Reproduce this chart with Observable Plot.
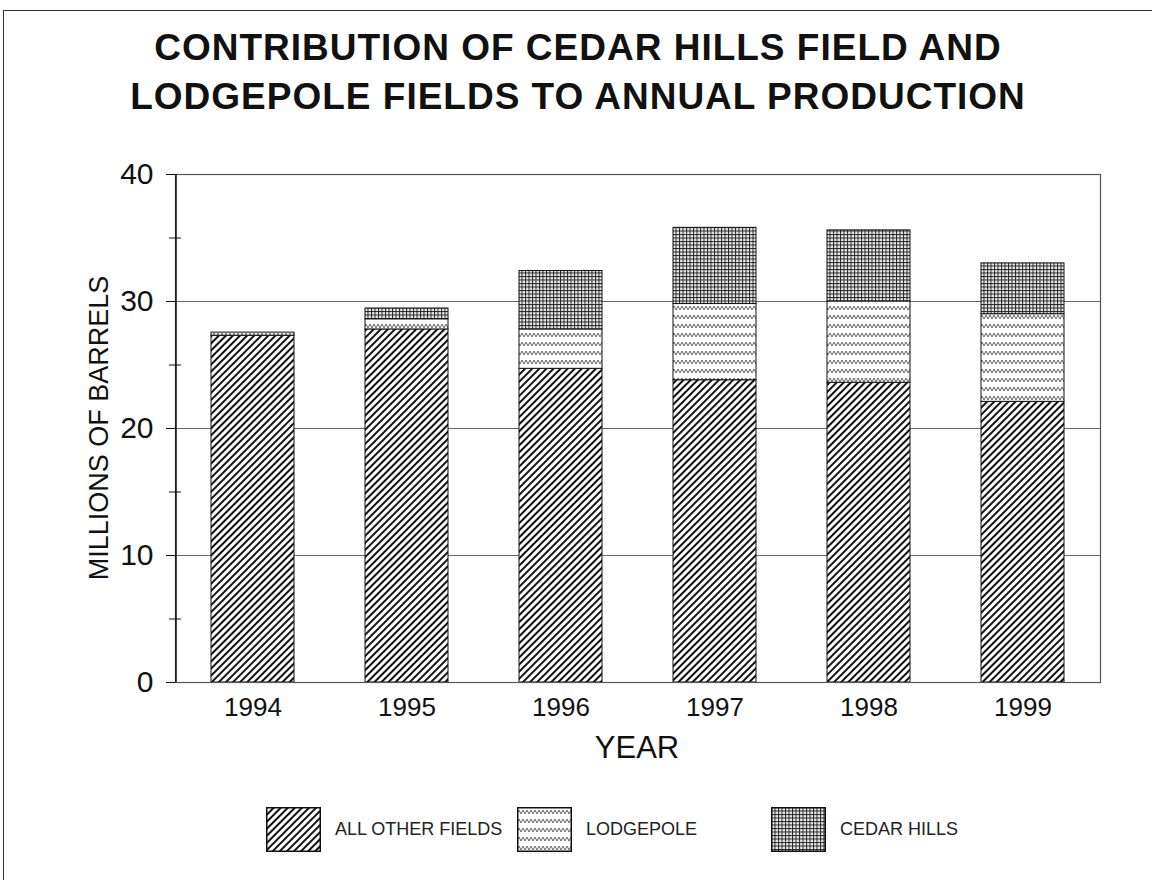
<!DOCTYPE html>
<html>
<head>
<meta charset="utf-8">
<script src="https://cdn.jsdelivr.net/npm/d3@7"></script>
<script src="https://cdn.jsdelivr.net/npm/@observablehq/plot@0.6"></script>
<style>
  body { margin: 0; background: #fff; font-family: "Liberation Sans", Arial, sans-serif; }
  #wrap { position: relative; width: 1152px; height: 880px; overflow: hidden; }
  #border { position: absolute; left: 3px; top: 10px; width: 1200px; height: 900px; border-left: 1.5px solid #333; border-top: 1.5px solid #333; }
  #title { position: absolute; left: 0; width: 1156px; top: 23px; text-align: center; font-weight: bold; font-size: 37px; letter-spacing: 1px; line-height: 49px; color: #111; }
  #ylab { position: absolute; left: 99px; top: 428px; transform: translate(-50%, -50%) rotate(-90deg); font-size: 27px; white-space: nowrap; color: #111; }
  #xlab { position: absolute; left: 637px; top: 748px; transform: translate(-50%, -50%); font-size: 31px; color: #111; }
  #chart { position: absolute; left: 0; top: 150px; }
  #legend { position: absolute; top: 807px; left: 0; width: 1152px; height: 50px; }
  .lg { position: absolute; display: flex; align-items: center; font-size: 18px; color: #222; white-space: nowrap; }
  .lg svg { margin-right: 14px; }
</style>
</head>
<body>
<svg width="0" height="0" style="position:absolute">
  <defs>
    <pattern id="pHatch" patternUnits="userSpaceOnUse" width="5" height="5" patternTransform="rotate(45)">
      <rect width="5" height="5" fill="#fff"/>
      <line x1="1" y1="0" x2="1" y2="5" stroke="#111" stroke-width="2"/>
    </pattern>
    <pattern id="pWave" patternUnits="userSpaceOnUse" width="8" height="9">
      <rect width="8" height="9" fill="#fff"/>
      <polyline points="0,7 2,3 4,7 6,3 8,7" fill="none" stroke="#666" stroke-width="1"/>
    </pattern>
    <pattern id="pGrid" patternUnits="userSpaceOnUse" width="3.5" height="3.5">
      <rect width="3.5" height="3.5" fill="#eee"/>
      <line x1="0" y1="0.5" x2="3.5" y2="0.5" stroke="#222" stroke-width="1"/>
      <line x1="0.5" y1="0" x2="0.5" y2="3.5" stroke="#222" stroke-width="1"/>
    </pattern>
  </defs>
</svg>
<div id="wrap">
  <div id="border"></div>
  <div id="title">CONTRIBUTION OF CEDAR HILLS FIELD AND<br>LODGEPOLE FIELDS TO ANNUAL PRODUCTION</div>
  <div id="chart"></div>
  <div id="ylab">MILLIONS OF BARRELS</div>
  <div id="xlab">YEAR</div>
  <div id="legend"></div>
</div>
<script>
const years = ["1994", "1995", "1996", "1997", "1998", "1999"];
const seriesNames = ["ALL OTHER FIELDS", "LODGEPOLE", "CEDAR HILLS"];
const allOther = [27.3, 27.8, 24.7, 23.8, 23.6, 22.1];
const lodgepole = [0.25, 0.8, 3.1, 6.0, 6.4, 6.9];
const cedarHills = [0.0, 0.85, 4.6, 6.0, 5.6, 4.0];
const yTicks = [0, 10, 20, 30, 40];
const yMinorTicks = [5, 15, 25, 35];
const gridValues = [10, 20, 30];
const patterns = ["url(#pHatch)", "url(#pWave)", "url(#pGrid)"];

const seriesValues = [allOther, lodgepole, cedarHills];
const data = [];
seriesNames.forEach((s, i) => years.forEach((y, j) => data.push({year: y, series: s, value: seriesValues[i][j]})));

const chart = Plot.plot({
  width: 1152,
  height: 582,
  marginLeft: 175,
  marginRight: 52,
  marginTop: 24,
  marginBottom: 50,
  style: {fontFamily: "'Liberation Sans', Arial, sans-serif", color: "#111", background: "transparent"},
  x: {domain: years, paddingInner: 0.46, paddingOuter: 0.23, label: null},
  y: {domain: [0, 40], label: null},
  color: {domain: seriesNames, range: patterns},
  marks: [
    Plot.ruleY(gridValues, {stroke: "#666", strokeWidth: 1}),
    Plot.barY(data, Plot.stackY({x: "year", y: "value", fill: "series", stroke: "#111", strokeWidth: 1, order: seriesNames})),
    Plot.frame({stroke: "#555", strokeWidth: 1.2}),
    Plot.ruleX([0], {x: () => years[0], dx: -41.5 - 35.5, stroke: "#111", strokeWidth: 1.5, y1: 0, y2: 40}),
    Plot.axisY({ticks: yTicks, tickSize: 9, tickPadding: 13, fontSize: 30, tickFormat: d => d, label: null}),
    Plot.axisY({ticks: yMinorTicks, tickSize: 12, dx: 6, tickFormat: () => "", label: null}),
    Plot.axisX({tickSize: 0, tickPadding: 15, fontSize: 26, label: null})
  ]
});
document.getElementById("chart").appendChild(chart);

// Legend
const legendX = [266, 517, 771];
const legend = document.getElementById("legend");
seriesNames.forEach((s, i) => {
  const item = document.createElement("div");
  item.className = "lg";
  item.style.left = legendX[i] + "px";
  item.style.top = "0px";
  item.innerHTML = `<svg width="55" height="45"><rect x="0.75" y="0.75" width="53.5" height="43.5" fill="${patterns[i]}" stroke="#111" stroke-width="1.5"/></svg><span>${s}</span>`;
  legend.appendChild(item);
});
</script>
</body>
</html>
